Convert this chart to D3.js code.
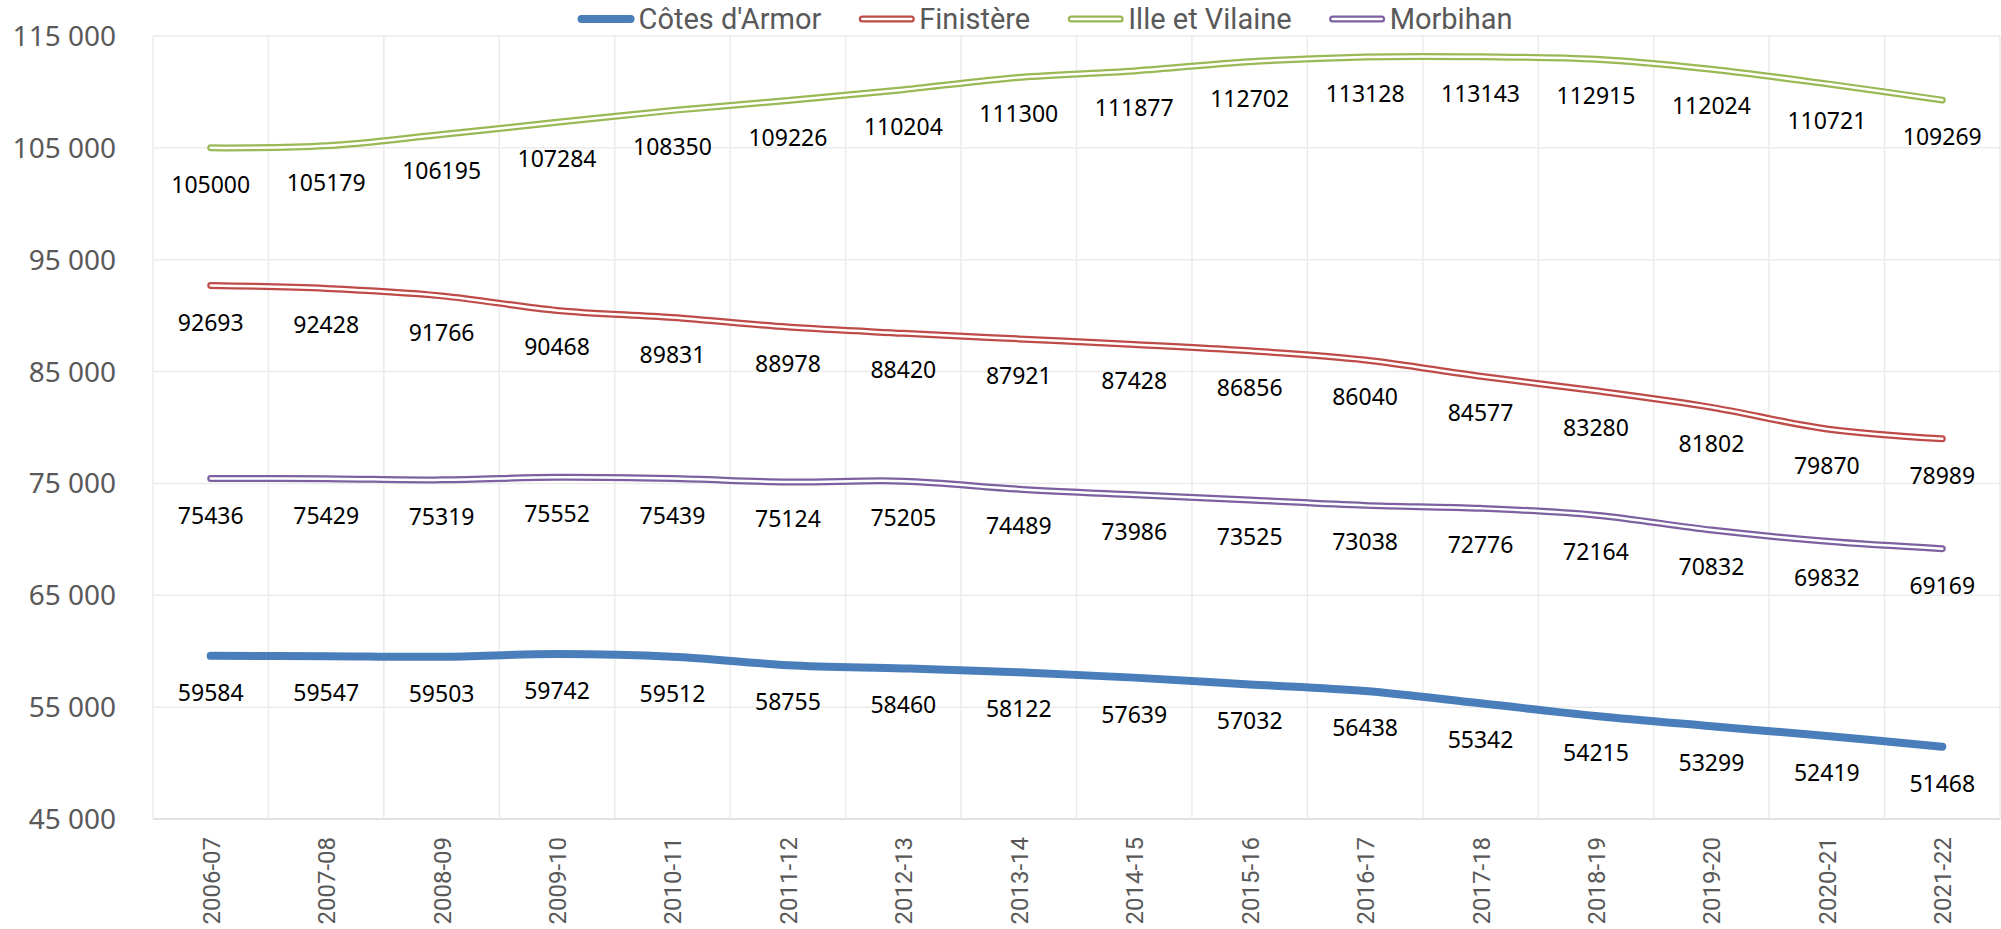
<!DOCTYPE html>
<html>
<head>
<meta charset="utf-8">
<script src="https://cdn.jsdelivr.net/npm/d3@7"></script>
<style>
  html, body { margin: 0; padding: 0; background: #fff; }
  svg { display: block; }
</style>
</head>
<body>
<svg id="chart" width="2001" height="929"></svg>
<script>
const categories = ["2006-07","2007-08","2008-09","2009-10","2010-11","2011-12","2012-13","2013-14","2014-15","2015-16","2016-17","2017-18","2018-19","2019-20","2020-21","2021-22"];
const cotesArmor = [59584,59547,59503,59742,59512,58755,58460,58122,57639,57032,56438,55342,54215,53299,52419,51468];
const finistere = [92693,92428,91766,90468,89831,88978,88420,87921,87428,86856,86040,84577,83280,81802,79870,78989];
const illeEtVilaine = [105000,105179,106195,107284,108350,109226,110204,111300,111877,112702,113128,113143,112915,112024,110721,109269];
const morbihan = [75436,75429,75319,75552,75439,75124,75205,74489,73986,73525,73038,72776,72164,70832,69832,69169];
const seriesNames = ["Côtes d'Armor","Finistère","Ille et Vilaine","Morbihan"];
const yTicks = [45000,55000,65000,75000,85000,95000,105000,115000];

const seriesValues = [cotesArmor, finistere, illeEtVilaine, morbihan];
const colors = ["#4a7ebb","#be4b48","#98b954","#7d60a0"];
const doubleLine = [false, true, true, true];

const svg = d3.select("#chart");
const L = 153, R = 2000, T = 36, B = 819;
const x = d3.scaleBand().domain(categories).range([L, R]);
const y = d3.scaleLinear().domain([45000, 115000]).range([B, T]);
const cx = c => x(c) + x.bandwidth() / 2;

const narrow = "Roboto, sans-serif";
const sans = "'Noto Sans', 'Open Sans', sans-serif";

// gridlines horizontal
svg.append("g").selectAll("line").data(yTicks).join("line")
  .attr("x1", L).attr("x2", R)
  .attr("y1", d => y(d)).attr("y2", d => y(d))
  .attr("stroke", d => d === 45000 ? "#d9d9d9" : "#ebebeb")
  .attr("stroke-width", 1.5);

// gridlines vertical at band boundaries
const vb = categories.map(c => x(c)).concat([x.range()[1]]);
svg.append("g").selectAll("line").data(vb).join("line")
  .attr("x1", d => d).attr("x2", d => d)
  .attr("y1", T).attr("y2", B)
  .attr("stroke", "#ebebeb").attr("stroke-width", 1.5);

// y tick labels
svg.append("g").selectAll("text").data(yTicks).join("text")
  .attr("x", 116).attr("y", d => y(d) + 10)
  .attr("text-anchor", "end")
  .attr("font-family", sans).attr("font-size", 28).attr("fill", "#595959")
  .text(d => d3.format(",")(d).replace(/,/g, " "));

// x tick labels
svg.append("g").selectAll("text").data(categories).join("text")
  .attr("transform", d => `translate(${cx(d) + 9},${B + 18}) rotate(-90)`)
  .attr("text-anchor", "end")
  .attr("font-family", narrow).attr("font-size", 24).attr("fill", "#595959")
  .text(d => d);

// lines
const line = d3.line().x((d, i) => cx(categories[i])).y(d => y(d)).curve(d3.curveCatmullRom.alpha(0.5));
seriesValues.forEach((vals, si) => {
  const g = svg.append("g");
  g.append("path").attr("d", line(vals)).attr("fill", "none")
    .attr("stroke", colors[si]).attr("stroke-width", doubleLine[si] ? 7 : 8)
    .attr("stroke-linecap", "round").attr("stroke-linejoin", "round");
  if (doubleLine[si]) {
    g.append("path").attr("d", line(vals)).attr("fill", "none")
      .attr("stroke", "#fff").attr("stroke-width", 2.5)
      .attr("stroke-linecap", "round").attr("stroke-linejoin", "round");
  }
  g.selectAll("text").data(vals).join("text")
    .attr("x", (d, i) => cx(categories[i]))
    .attr("y", d => y(d) + 45)
    .attr("text-anchor", "middle")
    .attr("font-family", sans).attr("font-size", 23).attr("fill", "#000")
    .text(d => d);
});

// legend
const lg = svg.append("g");
let cur = 0;
seriesNames.forEach((name, si) => {
  const it = lg.append("g");
  it.append("line").attr("x1", cur + 4).attr("x2", cur + 53).attr("y1", 19).attr("y2", 19)
    .attr("stroke", colors[si]).attr("stroke-width", doubleLine[si] ? 7 : 8).attr("stroke-linecap", "round");
  if (doubleLine[si]) {
    it.append("line").attr("x1", cur + 4).attr("x2", cur + 53).attr("y1", 19).attr("y2", 19)
      .attr("stroke", "#fff").attr("stroke-width", 2.5).attr("stroke-linecap", "round");
  }
  const t = it.append("text").attr("x", cur + 61).attr("y", 29)
    .attr("font-family", narrow).attr("font-size", 29).attr("fill", "#595959").text(name);
  const w = t.node().getComputedTextLength();
  cur += 61 + w + 37;
});
const total = cur - 37;
lg.attr("transform", `translate(${1045 - total / 2},0)`);
</script>
</body>
</html>
